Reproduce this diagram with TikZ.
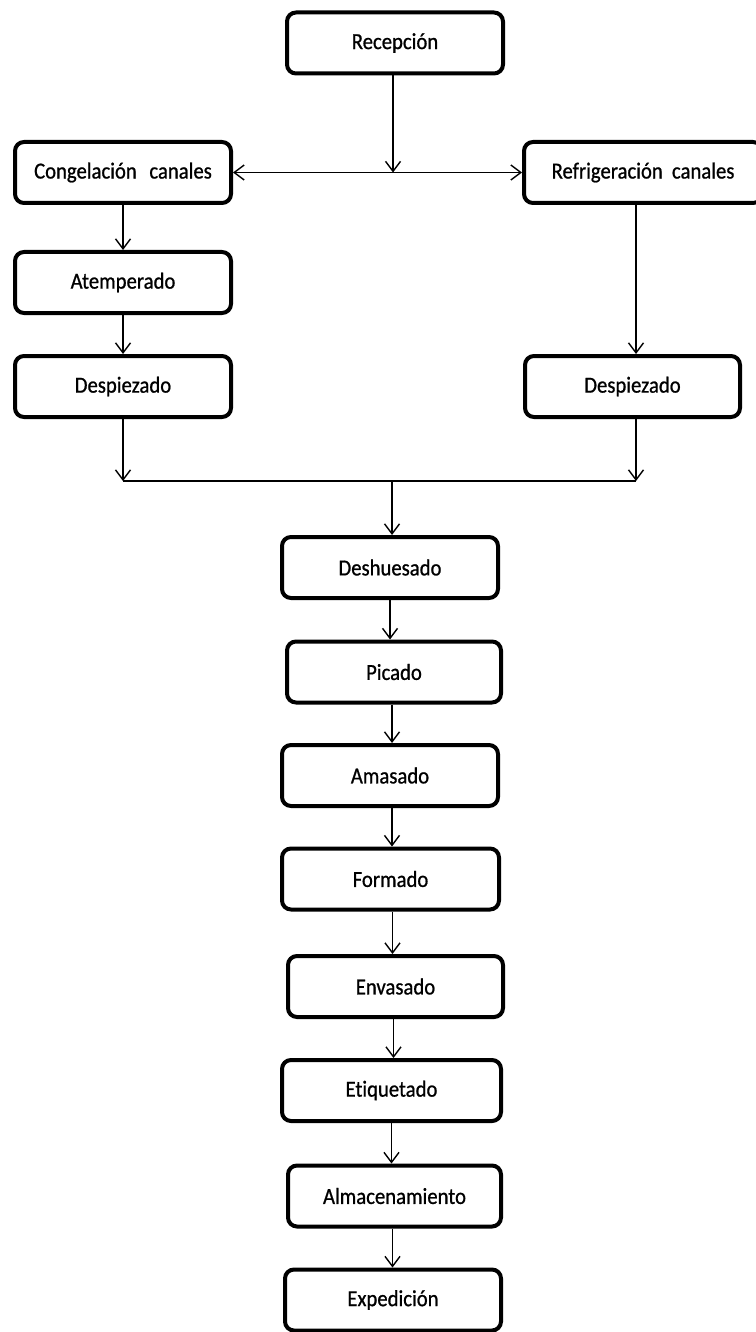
\documentclass[tikz,border=0pt]{standalone}
\usepackage{fontspec}
\setmainfont[FakeStretch=0.9,FakeBold=0.8,Ligatures=NoCommon]{Carlito}
\usetikzlibrary{arrows.meta}
\tikzset{
  box/.style={draw=black, line width=4pt, rounded corners=9pt, fill=white,
    minimum height=61pt, inner sep=0pt, font=\fontsize{23}{26}\selectfont},
  tip/.tip={Straight Barb[length=10pt,width=15pt,line width=1.4pt]},
  conn/.style={line width=1.4pt, -tip},
  link/.style={line width=1.4pt},
  both/.style={line width=1.4pt, tip-tip}
}
\begin{document}
\begin{tikzpicture}[x=1pt,y=-1pt]
\useasboundingbox (0,0) rectangle (755,1332);
\node[box, minimum width=216pt] (rec)   at (395,43)    {Recepción};
\node[box, minimum width=216pt] (cong)  at (123,172.5) {Congelación\hspace{0.55em}canales};
\node[box, minimum width=238pt] (ref)   at (643,172.5) {Refrigeración\hspace{0.4em}canales};
\node[box, minimum width=216pt] (atem)  at (123,282.5) {Atemperado};
\node[box, minimum width=216pt] (despL) at (123,386.5) {Despiezado};
\node[box, minimum width=215pt] (despR) at (632.5,386.5) {Despiezado};
\node[box, minimum width=216pt] (desh)  at (390,567.5) {Deshuesado};
\node[box, minimum width=214pt] (pic)   at (394,672)   {Picado};
\node[box, minimum width=216pt] (ama)   at (390,775.5) {Amasado};
\node[box, minimum width=217pt] (form)  at (390.5,879) {Formado};
\node[box, minimum width=215pt] (env)   at (395.5,986.5) {Envasado};
\node[box, minimum width=219pt] (eti)   at (391.5,1090.5) {Etiquetado};
\node[box, minimum width=213pt] (alm)   at (394.5,1196) {Almacenamiento};
\node[box, minimum width=216pt] (exp)   at (393,1300)  {Expedición};
\coordinate (mL) at (123,481);
\coordinate (mR) at (636,481);
\coordinate (mC) at (392,481);
% top distribution
\draw[both] (cong.east) -- (ref.west);
\draw[conn] ([xshift=-2pt]rec.south) -- ([xshift=-2pt]rec.south |- cong.east);
% left branch
\draw[conn] (cong.south) -- (atem.north);
\draw[conn] (atem.south) -- (despL.north);
% right branch
\draw[conn] ([xshift=3.5pt]despR.north |- ref.south) -- ([xshift=3.5pt]despR.north);
% merge
\draw[conn] (despL.south) -- (mL);
\draw[conn] ([xshift=3.5pt]despR.south) -- (mR);
\draw[link] (mL) -- (mR);
\draw[conn] (mC) -- (mC |- desh.north);
% main chain
\draw[conn] (desh.south) -- (desh.south |- pic.north);
\draw[conn] ([xshift=-2pt]pic.south) -- ([xshift=-2pt]pic.south |- ama.north);
\draw[conn] ([xshift=2pt]ama.south) -- ([xshift=2pt]ama.south |- form.north);
\draw[conn] ([xshift=2pt]form.south) -- ([xshift=2pt]form.south |- env.north);
\draw[conn] ([xshift=-2pt]env.south) -- ([xshift=-2pt]env.south |- eti.north);
\draw[conn] (eti.south) -- (eti.south |- alm.north);
\draw[conn] ([xshift=-2pt]alm.south) -- ([xshift=-2pt]alm.south |- exp.north);
\end{tikzpicture}
\end{document}
